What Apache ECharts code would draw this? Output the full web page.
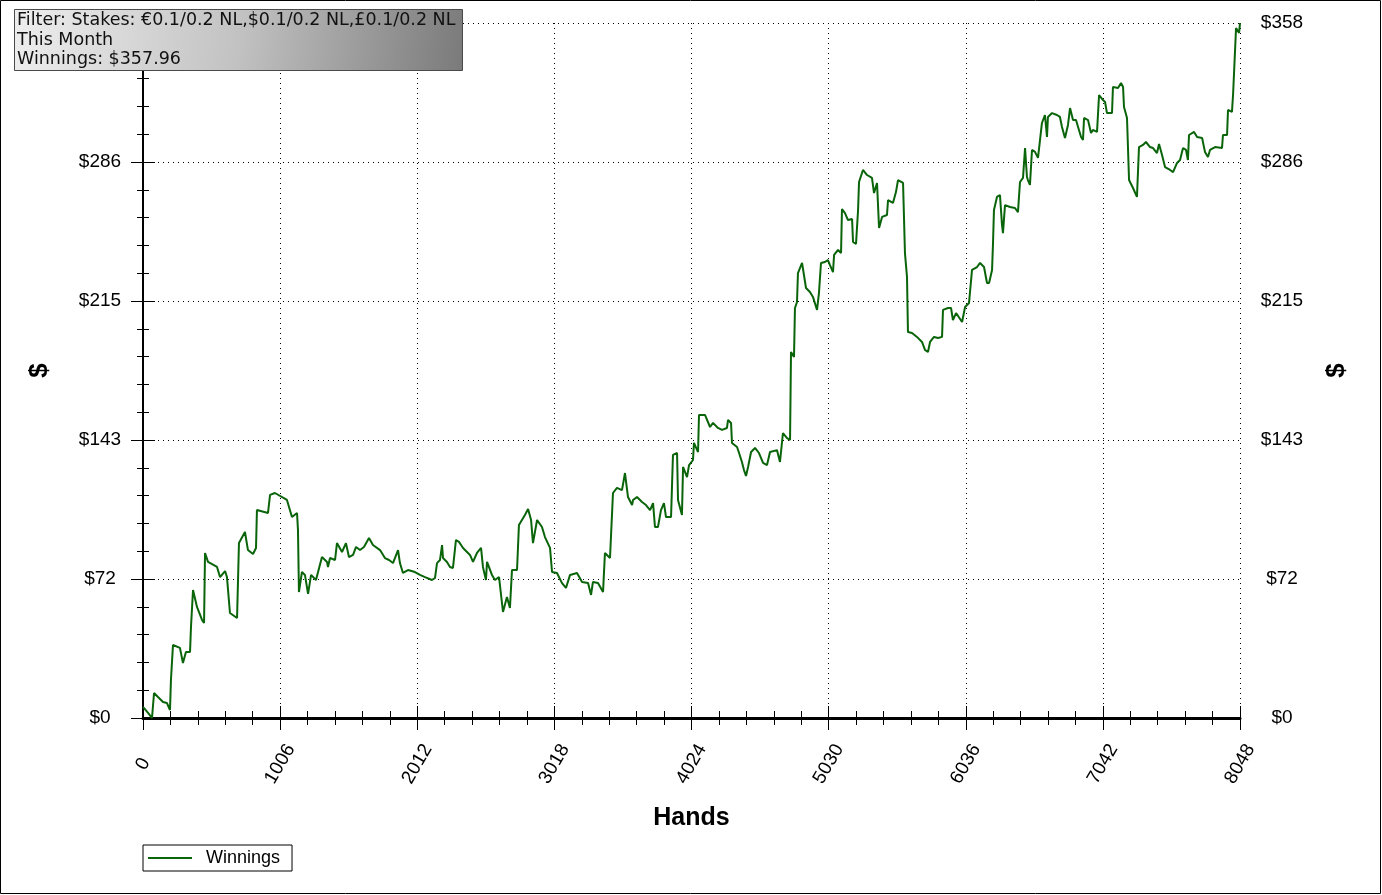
<!DOCTYPE html>
<html>
<head>
<meta charset="utf-8">
<title>Winnings</title>
<script src="https://cdn.jsdelivr.net/npm/echarts@6/dist/echarts.min.js"></script>
<style>
  html, body { margin: 0; padding: 0; background: #ffffff; }
  #chart { width: 1382px; height: 895px; }
</style>
</head>
<body>
<div id="chart"></div>
<script>
// ── Data ───────────────────────────────────────────────────────────────────

var hands = [
  0, 37, 66, 81, 110, 147, 176, 198, 205, 220, 271, 293, 315, 345, 352, 367, 396, 433, 448, 455,
  477, 543, 565, 602, 616, 638, 690, 704, 748, 770, 807, 829, 836, 917, 932, 968, 1056, 1093, 1130, 1137,
  1144, 1166, 1188, 1211, 1233, 1269, 1313, 1350, 1357, 1372, 1409, 1423, 1460, 1489, 1511, 1541, 1563, 1592, 1621, 1658,
  1687, 1739, 1775, 1805, 1834, 1871, 1885, 1907, 1944, 1995, 2032, 2069, 2120, 2142, 2157, 2179, 2194, 2201, 2230, 2252,
  2274, 2296, 2318, 2348, 2399, 2421, 2450, 2480, 2494, 2516, 2524, 2560, 2582, 2612, 2641, 2670, 2692, 2707, 2744, 2758,
  2802, 2825, 2847, 2861, 2891, 2927, 2949, 2986, 3001, 3037, 3074, 3103, 3133, 3184, 3221, 3265, 3287, 3301, 3338, 3375,
  3389, 3426, 3448, 3477, 3514, 3536, 3558, 3588, 3595, 3624, 3661, 3690, 3720, 3742, 3756, 3778, 3800, 3822, 3837, 3874,
  3888, 3918, 3925, 3954, 3962, 3991, 4006, 4035, 4042, 4072, 4079, 4123, 4160, 4182, 4218, 4248, 4284, 4292, 4314, 4321,
  4358, 4373, 4394, 4409, 4424, 4439, 4461, 4490, 4519, 4549, 4578, 4600, 4651, 4673, 4695, 4725, 4747, 4754, 4776, 4783,
  4798, 4805, 4835, 4849, 4864, 4893, 4915, 4945, 4959, 4974, 5003, 5025, 5040, 5062, 5070, 5099, 5121, 5128, 5150, 5172,
  5202, 5209, 5231, 5246, 5253, 5282, 5312, 5348, 5363, 5385, 5392, 5400, 5422, 5458, 5466, 5502, 5524, 5539, 5576, 5590,
  5605, 5612, 5642, 5678, 5715, 5737, 5759, 5774, 5803, 5833, 5862, 5869, 5906, 5928, 5942, 5965, 6009, 6031, 6060, 6082,
  6119, 6141, 6170, 6192, 6207, 6229, 6236, 6243, 6265, 6287, 6302, 6309, 6324, 6361, 6397, 6419, 6434, 6456, 6471, 6485,
  6492, 6507, 6522, 6544, 6566, 6580, 6595, 6617, 6632, 6639, 6669, 6705, 6727, 6742, 6764, 6786, 6801, 6823, 6845, 6860,
  6882, 6896, 6904, 6933, 6955, 6969, 6999, 7014, 7043, 7058, 7072, 7109, 7116, 7153, 7175, 7190, 7197, 7219, 7226, 7234,
  7263, 7292, 7307, 7336, 7358, 7388, 7410, 7439, 7454, 7476, 7498, 7535, 7557, 7586, 7608, 7630, 7652, 7666, 7674, 7711,
  7733, 7770, 7791, 7813, 7828, 7865, 7916, 7923, 7953, 7960, 7989, 7997, 8011, 8019, 8033, 8041, 8048
];

var winnings = [
  5.7, 2.6, 0, 12.9, 10.8, 8.2, 7.7, 4.1, 19.6, 37.6, 36.1, 28.3, 34.0, 34.0, 46.9, 65.9, 57.2, 50.5, 48.9, 85.0,
  80.4, 77.8, 72.6, 75.7, 72.6, 54.1, 51.5, 90.1, 95.8, 86.5, 84.5, 87.6, 107.1, 105.6, 114.9, 115.9, 112.3, 103.5, 105.6, 96.8,
  64.9, 75.2, 73.7, 63.9, 73.7, 71.1, 82.9, 80.4, 77.8, 82.4, 81.4, 90.1, 85.5, 90.1, 82.9, 84.0, 88.1, 86.5, 88.1, 92.7,
  89.1, 86.5, 82.4, 81.4, 79.8, 86.5, 79.8, 74.7, 76.2, 75.2, 73.7, 72.6, 71.1, 72.1, 79.8, 81.4, 89.1, 82.4, 80.4, 77.8,
  77.3, 91.7, 90.7, 87.6, 84.0, 80.4, 85.0, 87.6, 77.8, 71.1, 80.4, 73.7, 71.1, 72.6, 54.6, 62.3, 56.7, 76.2, 76.2, 99.4,
  104.6, 107.7, 102.0, 90.1, 102.0, 98.4, 93.2, 87.6, 75.2, 74.7, 69.5, 67.0, 73.7, 74.7, 70.1, 69.5, 63.4, 70.1, 69.5, 64.9,
  85.0, 82.4, 115.9, 118.5, 117.4, 126.2, 113.8, 109.7, 112.3, 113.8, 111.3, 109.7, 107.1, 110.7, 98.4, 98.4, 107.1, 110.7, 103.5, 103.5,
  135.5, 136.5, 112.3, 104.6, 129.3, 124.1, 130.3, 132.9, 141.7, 137.0, 156.1, 156.1, 149.9, 152.0, 149.4, 148.4, 149.4, 153.5, 152.0, 141.7,
  139.6, 136.5, 131.9, 127.7, 124.7, 129.3, 137.0, 139.1, 136.5, 131.4, 130.3, 137.0, 138.0, 131.9, 146.8, 144.2, 143.2, 188.5, 186.0, 211.2,
  214.3, 229.2, 234.4, 228.2, 221.5, 219.4, 216.9, 210.2, 218.9, 234.4, 234.9, 235.9, 233.3, 229.7, 238.5, 241.1, 239.5, 262.2, 260.1, 256.5,
  257.0, 245.2, 244.2, 261.7, 276.1, 282.3, 279.7, 278.2, 270.4, 275.6, 274.6, 252.4, 258.1, 259.1, 266.8, 265.3, 270.9, 277.1, 275.6, 239.5,
  227.2, 198.8, 198.3, 196.3, 193.7, 189.6, 188.5, 193.7, 196.3, 195.7, 196.3, 210.2, 211.2, 211.2, 205.0, 208.6, 204.0, 211.7, 213.8, 230.8,
  232.3, 234.4, 232.3, 224.1, 224.1, 230.8, 244.7, 261.7, 268.4, 269.4, 254.0, 249.8, 264.2, 263.2, 262.7, 260.6, 276.1, 278.2, 293.6, 278.7,
  277.1, 274.6, 292.6, 291.6, 288.5, 289.0, 306.5, 310.6, 299.3, 309.6, 311.6, 310.6, 309.6, 304.4, 298.8, 305.5, 314.2, 308.0, 308.0, 304.4,
  299.3, 297.7, 309.1, 308.0, 301.3, 302.9, 301.9, 320.9, 318.3, 317.3, 311.6, 311.6, 325.0, 324.5, 327.1, 325.0, 314.7, 309.1, 294.1, 277.1,
  273.0, 268.4, 294.1, 295.2, 296.7, 294.1, 293.6, 291.0, 295.7, 290.0, 283.8, 282.3, 281.2, 285.9, 287.4, 293.6, 292.6, 287.4, 300.3, 301.9,
  299.3, 298.8, 291.6, 289.0, 292.6, 294.1, 293.6, 300.3, 300.3, 313.2, 312.2, 320.9, 320.9, 355.4, 355.9, 352.9, 357.96
];

var seriesName = 'Winnings';
var handsMax = 8048;
var handsStep = 1006;
var dollarMax = 358;
var dollarStep = 71.6;
var filterLines = [
  'Filter: Stakes: \u20ac0.1/0.2 NL,$0.1/0.2 NL,\u00a30.1/0.2 NL',
  'This Month',
  'Winnings: $357.96'
];

// ── Chart ──────────────────────────────────────────────────────────────────

(function () {
  'use strict';

  var FONT = 'Liberation Sans, Arial, sans-serif';
  var dotted = { color: '#000', width: 1, type: [1, 4] };

  var points = hands.map(function (h, i) { return [h, winnings[i]]; });

  function dollar(v) { return '$' + Math.round(v); }
  function plain(v) { return String(Math.round(v)); }

  // one axis per tick direction, so ticks cross the axis line like the original
  function xAxis(opts) {
    var base = {
      type: 'value', min: 0, max: handsMax, interval: handsStep, position: 'bottom',
      axisLine: { show: false, lineStyle: { color: '#000' } },
      axisTick: { show: true, length: 12, lineStyle: { color: '#000', width: 1 } },
      minorTick: { show: true, splitNumber: 5, length: 7, lineStyle: { color: '#000', width: 1 } },
      axisLabel: { show: false },
      splitLine: { show: false },
      minorSplitLine: { show: false }
    };
    return Object.assign(base, opts);
  }

  function yAxis(opts) {
    var base = {
      type: 'value', min: 0, max: dollarMax, interval: dollarStep, position: 'left',
      axisLine: { show: false, lineStyle: { color: '#000' } },
      axisTick: { show: true, length: 12, lineStyle: { color: '#000', width: 1 } },
      minorTick: { show: true, splitNumber: 5, length: 6, lineStyle: { color: '#000', width: 1 } },
      axisLabel: { show: false },
      splitLine: { show: false },
      minorSplitLine: { show: false }
    };
    return Object.assign(base, opts);
  }

  var option = {
    backgroundColor: '#ffffff',
    animation: false,
    grid: { left: 143, right: 142, top: 23, bottom: 177 },
    xAxis: [
      xAxis({
        axisLine: { show: true, lineStyle: { color: '#000', width: 3 } },
        axisLabel: {
          show: true, rotate: 60, align: 'center', verticalAlign: 'middle', margin: 46,
          formatter: plain, color: '#000', fontFamily: FONT, fontSize: 19
        },
        splitLine: { show: true, lineStyle: dotted },
        name: 'Hands', nameLocation: 'middle', nameGap: 88,
        nameTextStyle: { color: '#000', fontFamily: FONT, fontSize: 25, fontWeight: 'bold' }
      }),
      xAxis({ axisTick: { show: true, inside: true, length: 12, lineStyle: { color: '#000' } } }),
      xAxis({
        position: 'top',
        axisLine: { show: true, lineStyle: { color: '#000', width: 1 } },
        axisTick: { show: false },
        minorTick: { show: true, splitNumber: 5, length: 6, lineStyle: { color: '#000' } },
        axisLabel: { show: false }
      }),
      xAxis({
        position: 'top',
        axisTick: { show: true, inside: true, length: 6, lineStyle: { color: '#000' } },
        minorTick: { show: true, splitNumber: 5, length: 6, lineStyle: { color: '#000' } }
      })
    ],
    yAxis: [
      yAxis({
        axisLine: { show: true, lineStyle: { color: '#000', width: 2 } },
        axisLabel: {
          show: true, align: 'center', margin: 43, formatter: dollar,
          color: '#000', fontFamily: FONT, fontSize: 19
        },
        splitLine: { show: true, lineStyle: dotted },
        name: '$', nameLocation: 'middle', nameGap: 90, nameRotate: 90,
        nameTextStyle: { color: '#000', fontFamily: FONT, fontSize: 26, fontWeight: 'bold' }
      }),
      yAxis({ axisTick: { show: true, inside: true, length: 12, lineStyle: { color: '#000' } } }),
      yAxis({
        position: 'right',
        axisLine: { show: true, lineStyle: { color: '#000', width: 2 } },
        axisLabel: {
          show: true, align: 'center', margin: 42, formatter: dollar,
          color: '#000', fontFamily: FONT, fontSize: 19
        },
        name: '$', nameLocation: 'middle', nameGap: 84, nameRotate: 90,
        nameTextStyle: { color: '#000', fontFamily: FONT, fontSize: 26, fontWeight: 'bold' }
      }),
      yAxis({
        position: 'right',
        axisTick: { show: true, inside: true, length: 12, lineStyle: { color: '#000' } }
      })
    ],
    legend: {
      left: 143, top: 845,
      data: [seriesName],
      icon: 'rect', itemWidth: 44, itemHeight: 2,
      borderColor: '#000', borderWidth: 1, borderRadius: 0,
      padding: [4, 12, 4, 5],
      backgroundColor: '#fff',
      textStyle: { color: '#000', fontFamily: FONT, fontSize: 18, padding: [0, 0, 0, 9] }
    },
    graphic: [
      {
        type: 'rect', z: 100, zlevel: 1, silent: true,
        shape: { x: 0.5, y: 0.5, width: 1380, height: 893 },
        style: { fill: 'none', stroke: '#000', lineWidth: 1 }
      },
      {
        type: 'rect', z: 100, zlevel: 1, silent: true,
        shape: { x: 14.5, y: 9.5, width: 448, height: 61 },
        style: {
          stroke: '#4a4a4a', lineWidth: 1,
          fill: {
            type: 'linear', x: 0, y: 0, x2: 1, y2: 1,
            colorStops: [
              { offset: 0, color: '#eeeeee' },
              { offset: 0.5, color: '#c2c2c2' },
              { offset: 1, color: '#7a7a7a' }
            ]
          }
        }
      },
      {
        type: 'text', z: 101, zlevel: 1, silent: true,
        left: 17, top: 11,
        style: {
          text: filterLines.join('\n'),
          fill: '#111', font: '17.5px "DejaVu Sans", Verdana, sans-serif',
          lineHeight: 19.5
        }
      }
    ],
    series: [{
      name: seriesName,
      type: 'line',
      xAxisIndex: 0,
      yAxisIndex: 0,
      data: points,
      symbol: 'none',
      lineStyle: { color: '#0a640a', width: 2 },
      itemStyle: { color: '#0a640a' },
      z: 5
    }]
  };

  var chart = echarts.init(document.getElementById('chart'), null, { renderer: 'canvas' });
  chart.setOption(option);
})();
</script>
</body>
</html>
